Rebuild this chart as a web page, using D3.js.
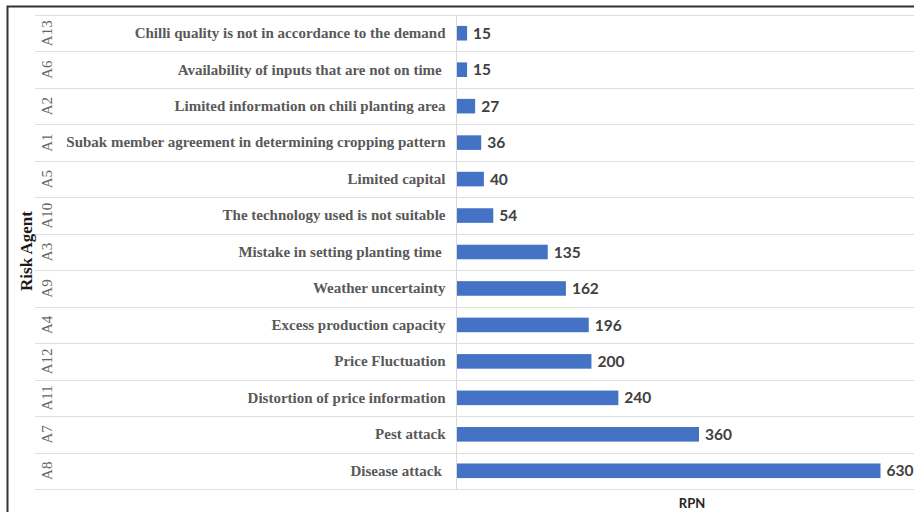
<!DOCTYPE html>
<html>
<head>
<meta charset="utf-8">
<script src="https://cdn.jsdelivr.net/npm/d3@7"></script>
<style>
  html, body { margin: 0; padding: 0; background: #fff; overflow: hidden; }
  svg { display: block; }
</style>
</head>
<body>
<svg id="chart" width="914" height="512"></svg>
<script>
// Risk agents ranked by RPN (top to bottom as drawn)
const codes = ["A13", "A6", "A2", "A1", "A5", "A10", "A3", "A9", "A4", "A12", "A11", "A7", "A8"];
const agents = [
  "Chilli quality is not in accordance to the demand",
  "Availability of inputs that are not on time ",
  "Limited information on chili planting area",
  "Subak member agreement in determining cropping pattern",
  "Limited capital",
  "The technology used is not suitable",
  "Mistake in setting planting time ",
  "Weather uncertainty",
  "Excess production capacity",
  "Price Fluctuation",
  "Distortion of price information",
  "Pest attack",
  "Disease attack "
];
const rpn = [15, 15, 27, 36, 40, 54, 135, 162, 196, 200, 240, 360, 630];

const svg = d3.select("#chart");

const rows = codes.map((c, i) => ({ code: c, agent: agents[i], value: rpn[i] }));

const y = d3.scaleBand()
  .domain(codes)
  .range([15, 489])
  .paddingInner(0.6)
  .paddingOuter(0.3);

const rowScale = d3.scaleBand().domain(codes).range([15, 489]);

const x = d3.scaleLinear().domain([0, 630]).range([457, 880.5]);

// outer frame (top and left edges)
svg.append("path")
  .attr("d", "M7.5,512V6.5H914")
  .attr("fill", "none")
  .attr("stroke", "#333")
  .attr("stroke-width", 2);

// horizontal row separators
const seps = codes.map(c => rowScale(c)).concat([489]);
svg.append("g").selectAll("line").data(seps).join("line")
  .attr("x1", 35).attr("x2", 914)
  .attr("y1", d => Math.round(d) + 0.5).attr("y2", d => Math.round(d) + 0.5)
  .attr("stroke", "#dedede").attr("stroke-width", 1);

// category axis with agent names
const axis = svg.append("g")
  .attr("transform", `translate(${x(0) - 0.5},0)`)
  .call(d3.axisLeft(rowScale).tickSize(0).tickPadding(11)
    .tickFormat(c => agents[codes.indexOf(c)]));
axis.select(".domain").attr("stroke", "#d9d9d9").attr("d", "M0,15V489");
axis.selectAll("text")
  .style("white-space", "pre")
  .attr("font-family", "'Liberation Serif', 'Times New Roman', serif")
  .attr("font-weight", "bold")
  .attr("font-size", 15)
  .attr("fill", "#595959");

// agent codes, rotated
svg.append("g").selectAll("text").data(rows).join("text")
  .attr("transform", d => `translate(52,${rowScale(d.code) + rowScale.bandwidth() / 2}) rotate(-90)`)
  .attr("text-anchor", "middle")
  .attr("font-family", "'Liberation Serif', 'Times New Roman', serif")
  .attr("font-size", 15)
  .attr("fill", "#666")
  .text(d => d.code);

// bars
svg.append("g").selectAll("rect").data(rows).join("rect")
  .attr("x", x(0))
  .attr("y", d => y(d.code))
  .attr("width", d => x(d.value) - x(0))
  .attr("height", y.bandwidth())
  .attr("fill", "#4472C4");

// value labels
svg.append("g").selectAll("text").data(rows).join("text")
  .attr("x", d => x(d.value) + 6)
  .attr("y", d => y(d.code) + y.bandwidth() / 2)
  .attr("dy", "0.36em")
  .attr("font-family", "Lato, 'Open Sans', sans-serif")
  .attr("font-weight", "bold")
  .attr("font-size", 15.5)
  .attr("fill", "#404040")
  .text(d => d.value);

// axis titles
svg.append("text")
  .attr("x", 692).attr("y", 508)
  .attr("text-anchor", "middle")
  .attr("font-family", "Lato, 'Open Sans', sans-serif")
  .attr("font-weight", "bold")
  .attr("font-size", 13)
  .attr("fill", "#262626")
  .text("RPN");

svg.append("text")
  .attr("transform", "translate(32,251) rotate(-90)")
  .attr("text-anchor", "middle")
  .attr("font-family", "'Liberation Serif', 'Times New Roman', serif")
  .attr("font-weight", "bold")
  .attr("font-size", 17)
  .attr("fill", "#1a1a1a")
  .text("Risk Agent");
</script>
</body>
</html>
